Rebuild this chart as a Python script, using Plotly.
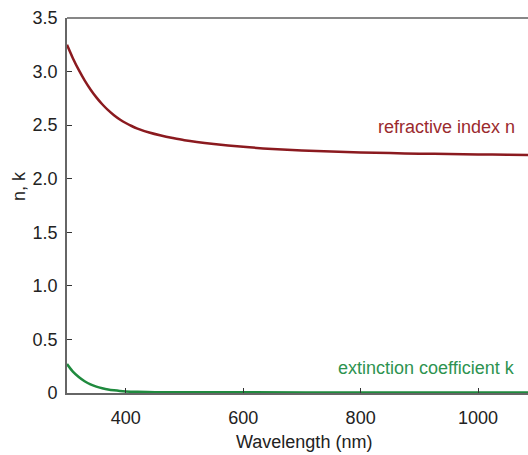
import plotly.graph_objects as go

# Optical constants of the film versus wavelength
wavelength_n = [300, 310, 320, 330, 340, 350, 360, 370, 380, 390, 400, 410, 420, 440, 460,
                480, 500, 550, 600, 650, 700, 750, 800, 850, 900, 950, 1000, 1050, 1085]
refractive_n = [3.25, 3.125, 3.015, 2.918, 2.833, 2.759, 2.695, 2.640, 2.593, 2.553, 2.520,
                2.492, 2.468, 2.431, 2.403, 2.380, 2.360, 2.325, 2.298, 2.278, 2.264, 2.253,
                2.245, 2.239, 2.234, 2.230, 2.227, 2.224, 2.222]

wavelength_k = [300, 310, 320, 330, 340, 350, 360, 370, 380, 390, 400, 420, 450, 500,
                600, 800, 1000, 1085]
extinction_k = [0.27, 0.20, 0.15, 0.11, 0.08, 0.06, 0.045, 0.033, 0.025, 0.019, 0.015, 0.011,
                0.008, 0.007, 0.006, 0.005, 0.005, 0.005]

x_ticks = [400, 600, 800, 1000]
y_ticks = [0, 0.5, 1.0, 1.5, 2.0, 2.5, 3.0, 3.5]
y_tick_text = ["0", "0.5", "1.0", "1.5", "2.0", "2.5", "3.0", "3.5"]

N_COLOR = "#8b1a1f"
K_COLOR = "#1f8a3e"
FONT = "Liberation Sans, Arial, sans-serif"

fig = go.Figure()
fig.add_trace(go.Scatter(x=wavelength_n, y=refractive_n, mode="lines",
                         line=dict(color=N_COLOR, width=2.5, shape="spline", smoothing=0.8),
                         showlegend=False, hoverinfo="skip"))
fig.add_trace(go.Scatter(x=wavelength_k, y=extinction_k, mode="lines",
                         line=dict(color=K_COLOR, width=2.5, shape="spline", smoothing=0.8),
                         showlegend=False, hoverinfo="skip"))

fig.add_annotation(x=1066, y=2.48, xref="x", yref="y", text="refractive index n",
                   showarrow=False, xanchor="right", yanchor="middle",
                   font=dict(family=FONT, size=18, color="#9b2a2e"))
fig.add_annotation(x=1066, y=0.233, xref="x", yref="y", text="extinction coefficient k",
                   showarrow=False, xanchor="right", yanchor="middle",
                   font=dict(family=FONT, size=18, color="#2e9350"))

# axis titles
fig.add_annotation(x=-0.104, y=0.552, xref="paper", yref="paper", text="n, k",
                   textangle=-90, showarrow=False, xanchor="center", yanchor="middle",
                   font=dict(family=FONT, size=18, color="#222222"))
fig.add_annotation(x=0.514, y=-0.131, xref="paper", yref="paper", text="Wavelength (nm)",
                   showarrow=False, xanchor="center", yanchor="middle",
                   font=dict(family=FONT, size=18, color="#222222"))

# top frame line
fig.add_shape(type="line", xref="paper", yref="paper", x0=0, x1=1, y0=1, y1=1,
              line=dict(color="#111111", width=1.2))

fig.update_xaxes(range=[300, 1085], tickvals=x_ticks, ticks="inside", ticklen=5,
                 tickwidth=1.2, tickcolor="#333333", showgrid=False, zeroline=False,
                 showline=True, linecolor="#666666", linewidth=1.6,
                 ticklabelstandoff=8,
                 tickfont=dict(family=FONT, size=18, color="#222222"))
fig.update_yaxes(range=[0, 3.5], tickvals=y_ticks, ticktext=y_tick_text, ticks="inside",
                 ticklen=5, tickwidth=1.2, tickcolor="#333333", showgrid=False,
                 zeroline=False, showline=True, linecolor="#666666", linewidth=1.6,
                 ticklabelstandoff=4,
                 tickfont=dict(family=FONT, size=18, color="#222222"))

fig.update_layout(width=528, height=455, margin=dict(l=67, r=0, t=18, b=62),
                  plot_bgcolor="white", paper_bgcolor="white")

fig.write_html("out.html")
